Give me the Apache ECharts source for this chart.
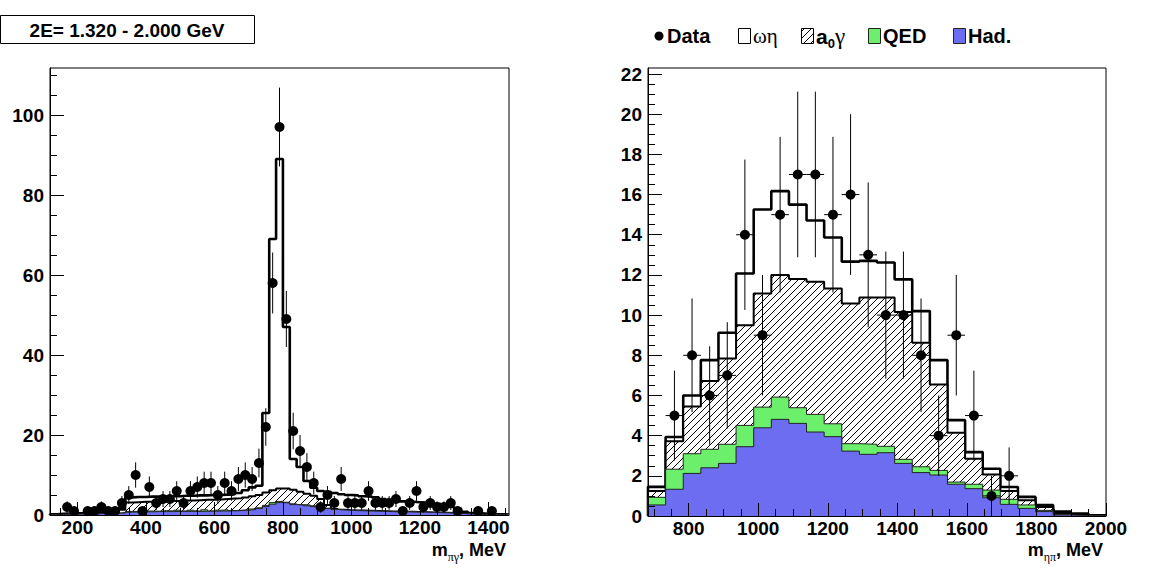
<!DOCTYPE html>
<html><head><meta charset="utf-8">
<script src="https://cdn.jsdelivr.net/npm/echarts@6/dist/echarts.min.js"></script>
<style>html,body{margin:0;padding:0;background:#fff}#c{width:1161px;height:572px}</style>
</head><body><div id="c"></div><script>
// ---------- left panel: m(pi gamma), 67 bins of 20 MeV ----------
const piGammaRange = [120, 1460];
const piGammaBinCount = 67;
const piGammaData = [0,0,2,1,0,1,1,2,1,1, 3,5,10,1,7,3,4,4,6,3, 6,7,8,8,5,8,6,9,10,9, 13,22,58,97,49,21,16,12,8,2, 5,3,9,3,3,3,6,3,3,3, 4,1,3,6,2,3,2,2,3,1, 0,0,1,0,1,0,0];
const piGammaHad = [0.1,0.15,0.2,0.2,0.25,0.3,0.3,0.35,0.4,0.45, 0.5,0.7,0.75,0.8,0.8,0.85,0.85,0.85,0.9,0.9, 0.9,0.9,0.95,0.95,1.0,1.0,1.05,1.1,1.2,1.35, 1.6,2.1,2.7,3.1,3.0,2.6,2.5,2.3,2.1,1.8, 1.6,1.4,1.25,1.2,1.1,1.05,1.0,0.95,0.9,0.85, 0.8,0.8,0.75,0.7,0.7,0.65,0.6,0.55,0.5,0.4, 0.3,0.2,0.15,0.1,0.1,0.05,0.05];
const piGammaQED = [0,0,0,0,0,0,0,0,0,0, 0.1,0.2,0.15,0.2,0.2,0.1,0.25,0.15,0.3,0.1, 0.3,0.1,0.35,0.05,0.2,0.3,0.05,0.1,0.1,0.15, 0.2,0.3,0.4,0.3,0.2,0.2,0.1,0.2,0.2,0.2, 0.1,0.05,0.05,0,0.05,0.05,0.05,0.05,0.05,0.05, 0.05,0,0.05,0.05,0,0,0,0,0,0.05, 0,0,0,0,0,0,0];
const piGammaA0g = [0,0,0,0,0,0,0,0,0,0.15, 0.7,2.2,2.3,2.3,2.3,2.45,2.3,2.5,2.3,2.6, 2.4,2.7,2.5,2.8,2.7,2.7,3.0,3.0,3.1,3.2, 3.2,3.2,3.1,3.2,3.4,3.5,3.2,2.8,2.5,2.0, 0.8,0.05,0,0,0,0,0,0,0,0, 0,0,0,0,0,0,0,0,0,0, 0,0,0,0,0,0,0];
const piGammaOmegaEta = [0.1,0.15,0.15,0.2,0.2,0.2,0.3,0.35,0.4,0.5, 0.5,1.3,1.3,1.2,1.3,1.2,1.2,1.2,1.2,1.2, 1.2,1.2,1.1,1.2,1.1,1.1,1.1,1.3,1.8,2.2, 2.3,19.9,62.8,82.4,40.4,7.7,6.2,3.2,2.0,2.0, 3.3,4.0,3.9,3.8,3.75,3.6,3.55,3.4,3.05,2.9, 2.75,2.6,2.5,2.45,2.4,2.35,2.2,1.95,1.5,1.15, 0.5,0.3,0.25,0.2,0.1,0.1,0.05];
const piGammaXLabels = [200,400,600,800,1000,1200,1400];
const piGammaYLabels = [0,20,40,60,80,100];
const piGammaYMax = 111.75;

// ---------- right panel: m(eta pi), 26 bins ----------
const etaPiRange = [683, 2000];
const etaPiBinCount = 26;
const etaPiData = [0,5,8,6,7,14,9,15,17,17,15,16,13,10,10,8,4,9,5,1,2,0,0,0,0,0];
const etaPiHad = [0.55,1.33,2.12,2.40,2.62,3.45,4.39,4.81,4.61,4.18,3.95,3.23,3.07,3.15,2.62,2.16,2.04,1.58,1.36,0.91,0.58,0.38,0.22,0.05,0.02,0.0];
const etaPiQED = [0.38,1.00,0.98,0.92,0.95,1.06,1.03,1.11,0.78,0.88,0.64,0.37,0.50,0.32,0.20,0.29,0.23,0.11,0.22,0.38,0.25,0.17,0.06,0.03,0.01,0.01];
const etaPiA0g = [0.32,1.39,2.35,3.40,4.27,4.99,5.66,6.07,6.41,6.60,6.74,6.98,7.31,7.41,7.33,6.17,4.28,2.46,1.27,0.78,0.41,0.23,0.17,0.07,0.05,0.01];
const etaPiOmegaEta = [0.20,0.21,0.55,1.04,1.28,2.57,4.18,4.18,3.70,3.05,2.53,2.08,1.82,1.74,1.63,1.58,1.21,0.62,0.33,0.28,0.20,0.17,0.10,0.07,0.04,0.01];
const etaPiXLabels = [800,1000,1200,1400,1600,1800,2000];
const etaPiYLabels = [0,2,4,6,8,10,12,14,16,18,20,22];
const etaPiYMax = 22.3;

const titleText = '2E= 1.320 - 2.000 GeV';

// ---------- helpers ----------
function steps(a, b, s){ const r=[]; for(let v=a; v<=b+1e-9; v+=s) r.push(+v.toFixed(6)); return r; }
function edgesOf(range, n){ const w=(range[1]-range[0])/n; const e=[]; for(let i=0;i<=n;i++) e.push(range[0]+i*w); return e; }
function cum(){ const arrs=[...arguments]; return arrs[0].map((_,i)=>arrs.reduce((s,a)=>s+a[i],0)); }
function stepData(edges, vals){
  const d=[[edges[0],0]];
  vals.forEach((v,i)=>d.push([edges[i],v]));
  d.push([edges[edges.length-1], vals[vals.length-1]]);
  d.push([edges[edges.length-1], 0]);
  return d;
}
function pointData(edges, vals){
  const out=[];
  vals.forEach((v,i)=>{ if(v>0){ const c=(edges[i]+edges[i+1])/2; out.push([c, v, Math.sqrt(v), (edges[i+1]-edges[i])/2]); } });
  return out;
}
function hatchCanvas(){
  const s=7; const c=document.createElement('canvas'); c.width=s; c.height=s;
  const g=c.getContext('2d'); g.fillStyle='#fff'; g.fillRect(0,0,s,s);
  g.strokeStyle='#000'; g.lineWidth=1; g.beginPath();
  g.moveTo(-1,s+1); g.lineTo(s+1,-1);
  g.moveTo(-1,1); g.lineTo(1,-1);
  g.moveTo(s-1,s+1); g.lineTo(s+1,s-1);
  g.stroke(); return c;
}
const hatch = {image: hatchCanvas(), repeat:'repeat', imageWidth:7, imageHeight:7};
const GREEN = '#6cf06c', BLUE = '#6d6df2';
const FONT = 'Liberation Sans';

function histSeries(idx, edges, had, qed, a0, oe){
  const lvTotal = cum(had,qed,a0,oe), lvA0 = cum(had,qed,a0), lvQED = cum(had,qed), lvHad = had.slice();
  const base = {type:'line', xAxisIndex:idx*2, yAxisIndex:idx*2, step:'end', symbol:'none', showSymbol:false, silent:true, animation:false, clip:true};
  return [
    Object.assign({}, base, {name:'ωη', z:2, data:stepData(edges,lvTotal), lineStyle:{color:'#000', width:2.6}, areaStyle:{color:'#fff', opacity:1}}),
    Object.assign({}, base, {name:'a0γ', z:3, data:stepData(edges,lvA0), lineStyle:{color:'#000', width:2}, areaStyle:{color:hatch, opacity:1}}),
    Object.assign({}, base, {name:'QED', z:4, data:stepData(edges,lvQED), lineStyle:{color:'#222', width:1}, areaStyle:{color:GREEN, opacity:1}}),
    Object.assign({}, base, {name:'Had.', z:5, data:stepData(edges,lvHad), lineStyle:{color:'#222', width:1}, areaStyle:{color:BLUE, opacity:1}})
  ];
}
function dataSeries(idx, edges, vals){
  const pts = pointData(edges, vals);
  return [
    {type:'custom', xAxisIndex:idx*2, yAxisIndex:idx*2, z:6, silent:true, animation:false, clip:true,
     encode:{x:0,y:1}, data:pts,
     renderItem:function(params, api){
       const x=api.value(0), y=api.value(1), s=api.value(2), hw=api.value(3);
       const t=api.coord([x,y+s]), b=api.coord([x,y-s]), l=api.coord([x-hw,y]), r=api.coord([x+hw,y]);
       return {type:'group', children:[
         {type:'line', shape:{x1:t[0],y1:t[1],x2:b[0],y2:b[1]}, style:{stroke:'#000', lineWidth:1}},
         {type:'line', shape:{x1:l[0],y1:l[1],x2:r[0],y2:r[1]}, style:{stroke:'#000', lineWidth:1}}
       ]};
     }},
    {type:'scatter', name:'Data', xAxisIndex:idx*2, yAxisIndex:idx*2, z:7, silent:true, animation:false,
     symbol:'circle', symbolSize:10, itemStyle:{color:'#000', opacity:1}, data:pts.map(p=>[p[0],p[1]])}
  ];
}
const labelStyle = {fontFamily:FONT, fontWeight:'bold', fontSize:19, lineHeight:19, color:'#000', formatter:function(v){return String(v);}};
function xAxes(grid, range, labels, minor){
  return [
    {gridIndex:grid, type:'value', min:range[0], max:range[1], position:'bottom', z:10,
     axisLine:{show:true, lineStyle:{color:'#000', width:1}},
     axisTick:{show:true, inside:true, length:13, customValues:labels, lineStyle:{color:'#000', width:1}},
     axisLabel:Object.assign({customValues:labels, margin:3}, labelStyle), splitLine:{show:false}},
    {gridIndex:grid, type:'value', min:range[0], max:range[1], position:'bottom', z:10,
     axisLine:{show:false}, axisTick:{show:true, inside:true, length:7, customValues:minor, lineStyle:{color:'#000', width:1}},
     axisLabel:{show:false}, splitLine:{show:false}}
  ];
}
function yAxes(grid, max, labels, minor){
  return [
    {gridIndex:grid, type:'value', min:0, max:max, position:'left', z:10,
     axisLine:{show:true, lineStyle:{color:'#000', width:1}},
     axisTick:{show:true, inside:true, length:14, customValues:labels, lineStyle:{color:'#000', width:1}},
     axisLabel:Object.assign({customValues:labels, margin:6}, labelStyle), splitLine:{show:false}},
    {gridIndex:grid, type:'value', min:0, max:max, position:'left', z:10,
     axisLine:{show:false}, axisTick:{show:true, inside:true, length:7, customValues:minor, lineStyle:{color:'#000', width:1}},
     axisLabel:{show:false}, splitLine:{show:false}}
  ];
}

const lEdges = edgesOf(piGammaRange, piGammaBinCount);
const rEdges = edgesOf(etaPiRange, etaPiBinCount);

const rich = {
  b:{fontFamily:FONT, fontWeight:'bold', fontSize:18, lineHeight:25, verticalAlign:'middle'},
  s:{fontFamily:'Liberation Serif', fontSize:12, lineHeight:1, verticalAlign:'bottom'},
  L:{fontFamily:FONT, fontWeight:'bold', fontSize:21, lineHeight:27, verticalAlign:'middle'},
  g:{fontFamily:'Liberation Serif', fontSize:21, lineHeight:22, verticalAlign:'middle'},
  gg:{fontFamily:'Liberation Serif', fontSize:23, lineHeight:22, verticalAlign:'middle'},
  sb:{fontFamily:FONT, fontWeight:'bold', fontSize:13, lineHeight:1, verticalAlign:'bottom'}
};
const LY = 36; // legend row centre
const legendFont = 'bold 20px "Liberation Sans"';
const graphics = [
  {type:'rect', shape:{x:0.5, y:15.5, width:254, height:28}, style:{fill:'#fff', stroke:'#000', lineWidth:1}},
  {type:'text', x:127, y:30, style:{text:titleText, font:'bold 19px "Liberation Sans"', fill:'#000', align:'center', verticalAlign:'middle'}},
  {type:'text', x:506, y:550, style:{text:'{b|m}{s|πγ}{b|, MeV}', rich:rich, fill:'#000', align:'right', verticalAlign:'middle'}},
  {type:'text', x:1103, y:550, style:{text:'{b|m}{s|ηπ}{b|, MeV}', rich:rich, fill:'#000', align:'right', verticalAlign:'middle'}},
  {type:'circle', shape:{cx:659, cy:LY, r:4.5}, style:{fill:'#000'}},
  {type:'text', x:667, y:LY, style:{text:'Data', font:legendFont, fill:'#000', align:'left', verticalAlign:'middle'}},
  {type:'rect', shape:{x:738.5, y:LY-7.5, width:12, height:15}, style:{fill:'#fff', stroke:'#000', lineWidth:1}},
  {type:'text', x:753, y:LY, style:{text:'{g|ωη}', rich:rich, fill:'#000', align:'left', verticalAlign:'middle'}},
  {type:'rect', shape:{x:801.5, y:LY-7.5, width:12, height:15}, style:{fill:hatch, stroke:'#000', lineWidth:1}},
  {type:'text', x:816, y:LY, style:{text:'{L|a}{sb|0}{gg|γ}', rich:rich, fill:'#000', align:'left', verticalAlign:'middle'}},
  {type:'rect', shape:{x:868.5, y:LY-7.5, width:12, height:15}, style:{fill:GREEN, stroke:'#222', lineWidth:1}},
  {type:'text', x:883, y:LY, style:{text:'QED', font:legendFont, fill:'#000', align:'left', verticalAlign:'middle'}},
  {type:'rect', shape:{x:953.5, y:LY-7.5, width:12, height:15}, style:{fill:BLUE, stroke:'#222', lineWidth:1}},
  {type:'text', x:968, y:LY, style:{text:'Had.', font:legendFont, fill:'#000', align:'left', verticalAlign:'middle'}}
];

const option = {
  animation:false,
  backgroundColor:'#fff',
  grid:[
    {left:50, top:68, width:459, height:447, show:true, borderColor:'#000', borderWidth:1, backgroundColor:'#fff'},
    {left:648, top:68, width:458, height:448, show:true, borderColor:'#000', borderWidth:1, backgroundColor:'#fff'}
  ],
  xAxis:[].concat(
    xAxes(0, piGammaRange, piGammaXLabels, steps(150,1450,50)),
    xAxes(1, etaPiRange, etaPiXLabels, steps(700,2000,50))
  ),
  yAxis:[].concat(
    yAxes(0, piGammaYMax, piGammaYLabels, steps(0,110,5)),
    yAxes(1, etaPiYMax, etaPiYLabels, steps(0,22,0.5))
  ),
  series:[].concat(
    histSeries(0, lEdges, piGammaHad, piGammaQED, piGammaA0g, piGammaOmegaEta),
    dataSeries(0, lEdges, piGammaData),
    histSeries(1, rEdges, etaPiHad, etaPiQED, etaPiA0g, etaPiOmegaEta),
    dataSeries(1, rEdges, etaPiData)
  ),
  graphic:graphics
};
const chart = echarts.init(document.getElementById('c'), null, {renderer:'svg', width:1161, height:572});
chart.setOption(option);
</script></body></html>
